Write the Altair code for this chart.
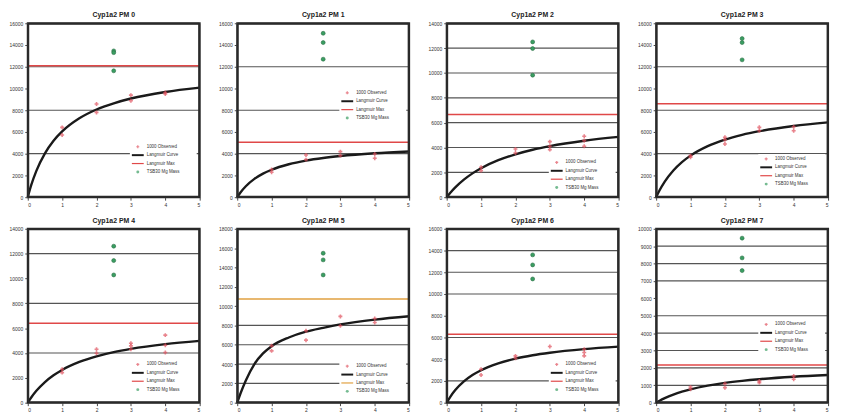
import altair as alt
import pandas as pd

titles = ["Cyp1a2 PM 0", "Cyp1a2 PM 1", "Cyp1a2 PM 2", "Cyp1a2 PM 3",
          "Cyp1a2 PM 4", "Cyp1a2 PM 5", "Cyp1a2 PM 6", "Cyp1a2 PM 7"]
y_max = [16000, 16000, 14000, 16000, 14000, 18000, 16000, 10000]
y_step = [2000, 2000, 2000, 2000, 2000, 2000, 2000, 1000]
x_ticks = [0, 1, 2, 3, 4, 5]

grid_lines = [
    [4000, 8000, 12000],
    [4000, 8000, 12000],
    [2000, 4000, 6000, 8000, 10000, 12000],
    [4000, 8000, 12000],
    [4000, 8000, 12000],
    [2000, 4000, 6000, 8000],
    [2000, 6000, 10000, 12000, 14000],
    [1000, 2000, 3000, 4000, 5000, 7000, 8000, 9000],
]

# Langmuir max (horizontal line)
max_line = [12100, 5050, 6650, 8600, 6400, 10730, 6300, 2170]
max_color = ["#e04848", "#e04848", "#e04848", "#e04848",
             "#e04848", "#e0a040", "#e04848", "#e04848"]

# observed points
obs_x = [
    [1, 1, 2, 2, 3, 3, 4, 4],
    [1, 1, 2, 2, 3, 3, 4, 4],
    [1, 1, 2, 2, 3, 3, 3, 4, 4, 4],
    [1, 1, 2, 2, 2, 3, 3, 4, 4],
    [1, 1, 2, 2, 3, 3, 3, 4, 4, 4],
    [1, 1, 2, 2, 3, 3, 4, 4],
    [1, 1, 2, 2, 3, 4, 4, 4],
    [1, 1, 2, 2, 3, 3, 4, 4],
]
obs_y = [
    [6424, 5720, 8566, 7800, 9392, 8872, 9636, 9500],
    [2539, 2294, 3885, 3457, 4191, 3824, 3977, 3579],
    [2409, 2141, 3881, 3560, 4470, 4096, 3828, 4899, 4551, 4096],
    [3824, 3671, 5507, 5293, 4895, 6425, 6119, 6486, 6119],
    [2692, 2423, 4308, 3985, 4792, 4577, 4308, 5438, 4631, 4038],
    [5885, 5365, 7442, 6473, 8931, 7962, 8723, 8308],
    [3077, 2554, 4308, 4092, 5169, 4923, 4615, 4308],
    [904, 769, 1096, 865, 1250, 1154, 1538, 1346],
]

# green points at x = 2.5
green_x = 2.5
green_y = [
    [13460, 13300, 11626],
    [15080, 14225, 12696],
    [12500, 11966, 9824],
    [14592, 14225, 12635],
    [12600, 11442, 10285],
    [15473, 14781, 13223],
    [13600, 12677, 11385],
    [9462, 8327, 7596],
]

# Langmuir curve
curve_x = [0, 0.1, 0.25, 0.5, 0.75, 1, 1.5, 2, 2.5, 3, 4, 5]
curve_y = [
    [0, 1100, 2420, 4030, 5190, 6050, 7260, 8070, 8640, 9080, 9680, 10080],
    [0, 459, 1010, 1683, 2164, 2525, 3030, 3367, 3607, 3788, 4040, 4208],
    [0, 341, 791, 1414, 1917, 2332, 2976, 3452, 3820, 4111, 4545, 4853],
    [0, 637, 1433, 2457, 3225, 3822, 4691, 5292, 5733, 6070, 6552, 6880],
    [0, 419, 953, 1659, 2203, 2635, 3278, 3733, 4073, 4335, 4716, 4978],
    [0, 1000, 2300, 4000, 5100, 5850, 6750, 7350, 7750, 8100, 8600, 8950],
    [0, 520, 1157, 1955, 2539, 2984, 3619, 4050, 4362, 4597, 4930, 5155],
    [0, 113, 262, 468, 634, 770, 981, 1137, 1256, 1351, 1492, 1591],
]

legend_labels = ["1000 Observed", "Langmuir Curve", "Langmuir Max", "TSB30 Mg Mass"]
# top of legend as a fraction of plot height
legend_top = [0.71, 0.40, 0.80, 0.78, 0.78, 0.79, 0.78, 0.55]

W, H = 174, 176
FONT = "Liberation Sans"
one = pd.DataFrame({"a": [0]})


def panel(i):
    xs = alt.Scale(domain=[0, 5], nice=False, zero=False)
    ys = alt.Scale(domain=[0, y_max[i]], nice=False)
    yvals = list(range(0, y_max[i] + 1, y_step[i]))
    xaxis = alt.Axis(values=x_ticks, title=None, grid=False, domain=False,
                     labelFontSize=5, tickSize=3, labelPadding=2,
                     labelColor="#333", tickColor="#444", labelFont=FONT)
    yaxis = alt.Axis(values=yvals, title=None, grid=False, domain=False,
                     labelFontSize=5, tickSize=3, labelPadding=2, format="d",
                     labelColor="#333", tickColor="#444", labelFont=FONT)

    X = lambda: alt.X("x:Q", scale=xs, axis=xaxis)
    Y = lambda: alt.Y("y:Q", scale=ys, axis=yaxis)

    grid = alt.Chart(pd.DataFrame({"y": grid_lines[i]})).mark_rule(
        color="#555", strokeWidth=1.2).encode(y=Y())

    mx = alt.Chart(pd.DataFrame({"y": [max_line[i]]})).mark_rule(
        color=max_color[i], strokeWidth=1.6).encode(y=Y())

    curve = alt.Chart(pd.DataFrame({"x": curve_x, "y": curve_y[i]})).mark_line(
        color="#1a1a1a", strokeWidth=2.4, interpolate="monotone").encode(
        x=X(), y=Y())

    obs = alt.Chart(pd.DataFrame({"x": obs_x[i], "y": obs_y[i]})).mark_point(
        shape="cross", filled=True, size=16, color="#e0505c").encode(
        x=X(), y=Y())

    grn = alt.Chart(pd.DataFrame({"x": [green_x] * len(green_y[i]),
                                  "y": green_y[i]})).mark_point(
        shape="circle", filled=True, size=16, color="#3a9e62",
        stroke="#2c6e46", strokeWidth=0.6, opacity=1).encode(
        x=X(), y=Y())

    # legend
    top = legend_top[i] * H
    dy = 8.5
    lx = W * 0.64
    layers = [grid, mx, curve, obs, grn]
    bg = alt.Chart(one).mark_rect(fill="white").encode(
        x=alt.value(lx - 8), x2=alt.value(W - 3),
        y=alt.value(top - 5), y2=alt.value(top + 3 * dy + 5))
    layers.append(bg)
    layers.append(alt.Chart(one).mark_point(shape="cross", filled=True, size=9,
                                            color="#e0505c").encode(
        x=alt.value(lx), y=alt.value(top)))
    layers.append(alt.Chart(one).mark_rule(color="#1a1a1a", strokeWidth=2).encode(
        x=alt.value(lx - 6), x2=alt.value(lx + 6), y=alt.value(top + dy)))
    layers.append(alt.Chart(one).mark_rule(color=max_color[i], strokeWidth=1.2).encode(
        x=alt.value(lx - 6), x2=alt.value(lx + 6), y=alt.value(top + 2 * dy)))
    layers.append(alt.Chart(one).mark_point(shape="circle", filled=True, size=9,
                                            color="#3a9e62").encode(
        x=alt.value(lx), y=alt.value(top + 3 * dy)))
    for k, lab in enumerate(legend_labels):
        layers.append(alt.Chart(one).mark_text(
            align="left", baseline="middle", fontSize=4.5, font=FONT,
            color="#333").encode(
            x=alt.value(lx + 9), y=alt.value(top + k * dy), text=alt.value(lab)))

    # plot-area frame (four rules)
    fr = dict(color="#2a2a2a", strokeWidth=2)
    e = 0.5
    layers.append(alt.Chart(one).mark_rule(**fr).encode(
        x=alt.value(e), x2=alt.value(W - e), y=alt.value(e)))
    layers.append(alt.Chart(one).mark_rule(**fr).encode(
        x=alt.value(e), x2=alt.value(W - e), y=alt.value(H - e)))
    layers.append(alt.Chart(one).mark_rule(**fr).encode(
        x=alt.value(e), y=alt.value(e), y2=alt.value(H - e)))
    layers.append(alt.Chart(one).mark_rule(**fr).encode(
        x=alt.value(W - e), y=alt.value(e), y2=alt.value(H - e)))

    return alt.layer(*layers).properties(
        width=W, height=H,
        title=alt.TitleParams(titles[i], fontSize=7, fontWeight="bold",
                              font=FONT, offset=3, color="#222"))


row1 = alt.hconcat(*[panel(i) for i in range(4)], spacing=12)
row2 = alt.hconcat(*[panel(i) for i in range(4, 8)], spacing=12)
chart = alt.vconcat(row1, row2, spacing=8).properties(
    padding={"left": 0, "top": 0, "right": 0, "bottom": 0},
    background="white").configure_view(stroke="#2a2a2a", strokeWidth=2)

chart.save("out.html", embed_options={"renderer": "svg", "actions": False})
